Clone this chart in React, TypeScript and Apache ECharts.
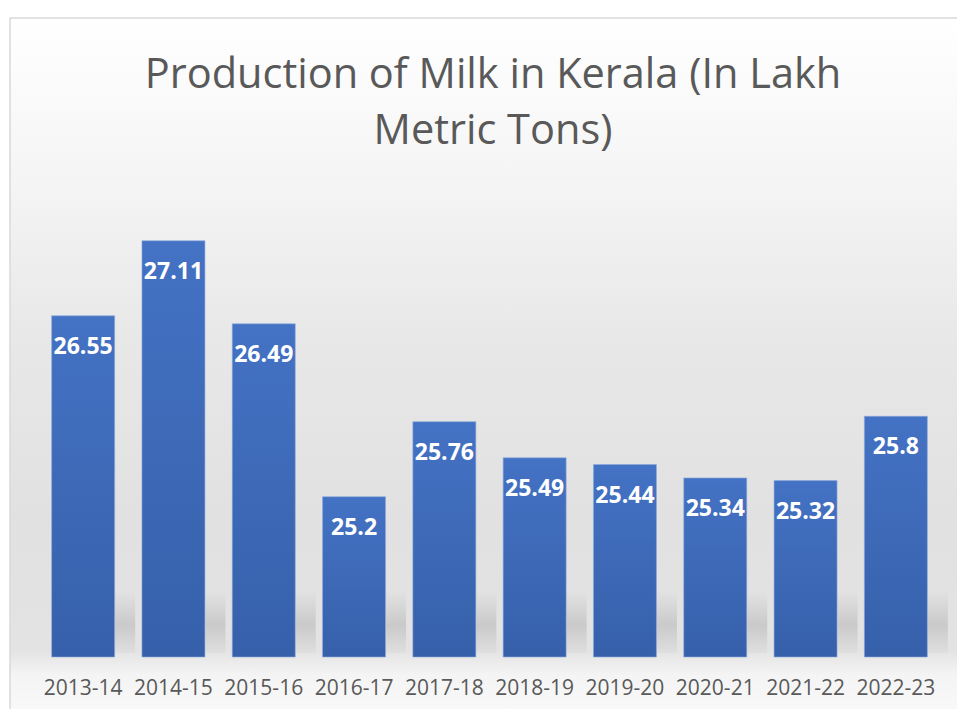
import React, { useEffect, useRef } from "react";
import * as echarts from "echarts";

const categories = ["2013-14", "2014-15", "2015-16", "2016-17", "2017-18", "2018-19", "2019-20", "2020-21", "2021-22", "2022-23"];
const production = [26.55, 27.11, 26.49, 25.2, 25.76, 25.49, 25.44, 25.34, 25.32, 25.8];
const titleText = "Production of Milk in Kerala (In Lakh\nMetric Tons)";
const yMin = 24;
const yMax = 27.5;

export default function App() {
  const ref = useRef<HTMLDivElement>(null);
  useEffect(() => {
    if (!ref.current) return;
    const chart = echarts.init(ref.current, null, { renderer: "svg" });
    const font = "'Open Sans', 'Noto Sans', sans-serif";
    chart.setOption({
      animation: false,
      graphic: [
        {
          type: "rect",
          silent: true,
          z: -10,
          shape: { x: 10, y: 18, width: 960, height: 710 },
          style: {
            fill: new echarts.graphic.LinearGradient(0, 0, 0, 1, [
              { offset: 0, color: "#FFFFFF" },
              { offset: 0.2, color: "#F6F6F6" },
              { offset: 0.45, color: "#E8E8E8" },
              { offset: 0.7, color: "#E1E1E1" },
              { offset: 0.89, color: "#E3E3E3" },
              { offset: 0.925, color: "#F4F4F4" },
              { offset: 1, color: "#FBFBFB" },
            ]),
            stroke: "#D9D9D9",
            lineWidth: 1.5,
          },
        },
      ],
      title: {
        text: titleText,
        left: 488,
        top: 39,
        textAlign: "center",
        textStyle: {
          fontFamily: font,
          fontSize: 41.5,
          fontWeight: "normal",
          color: "#595959",
          lineHeight: 56,
        },
      },
      grid: { left: 38, right: 16, top: 188, bottom: 52, containLabel: false },
      xAxis: {
        type: "category",
        data: categories,
        axisLine: { show: false },
        axisTick: { show: false },
        axisLabel: {
          color: "#595959",
          fontFamily: font,
          fontSize: 21,
          margin: 19,
          interval: 0,
        },
      },
      yAxis: {
        type: "value",
        min: yMin,
        max: yMax,
        show: false,
        splitLine: { show: false },
      },
      series: [
        {
          type: "custom",
          silent: true,
          z: 1,
          data: production.map((v, i) => [i, v]),
          renderItem: (params: any, api: any) => {
            const base = api.coord([api.value(0), yMin]);
            const x1 = base[0] + 32;
            return {
              type: "rect",
              shape: { x: x1, y: base[1] - 66, width: 20, height: 62 },
              style: {
                fill: new echarts.graphic.LinearGradient(0, 0, 0, 1, [
                  { offset: 0, color: "rgba(0,0,0,0)" },
                  { offset: 0.55, color: "rgba(0,0,0,0.11)" },
                  { offset: 1, color: "rgba(0,0,0,0.02)" },
                ]),
              },
            };
          },
        },
        {
          type: "bar",
          data: production,
          barWidth: 64,
          z: 2,
          itemStyle: {
            color: new echarts.graphic.LinearGradient(0, 0, 0, 1, [
              { offset: 0, color: "#4472C4" },
              { offset: 1, color: "#3660AA" },
            ]),
            borderColor: "rgba(140,170,220,0.6)",
            borderWidth: 1,
          },
          label: {
            show: true,
            position: "insideTop",
            distance: 18,
            color: "#FFFFFF",
            fontFamily: font,
            fontWeight: "bold",
            fontSize: 23,
          },
        },
      ],
    });
    return () => chart.dispose();
  }, []);
  return (
    <div
      ref={ref}
      style={{ position: "fixed", left: 0, top: 0, width: 957, height: 709, background: "#FFFFFF" }}
    />
  );
}
